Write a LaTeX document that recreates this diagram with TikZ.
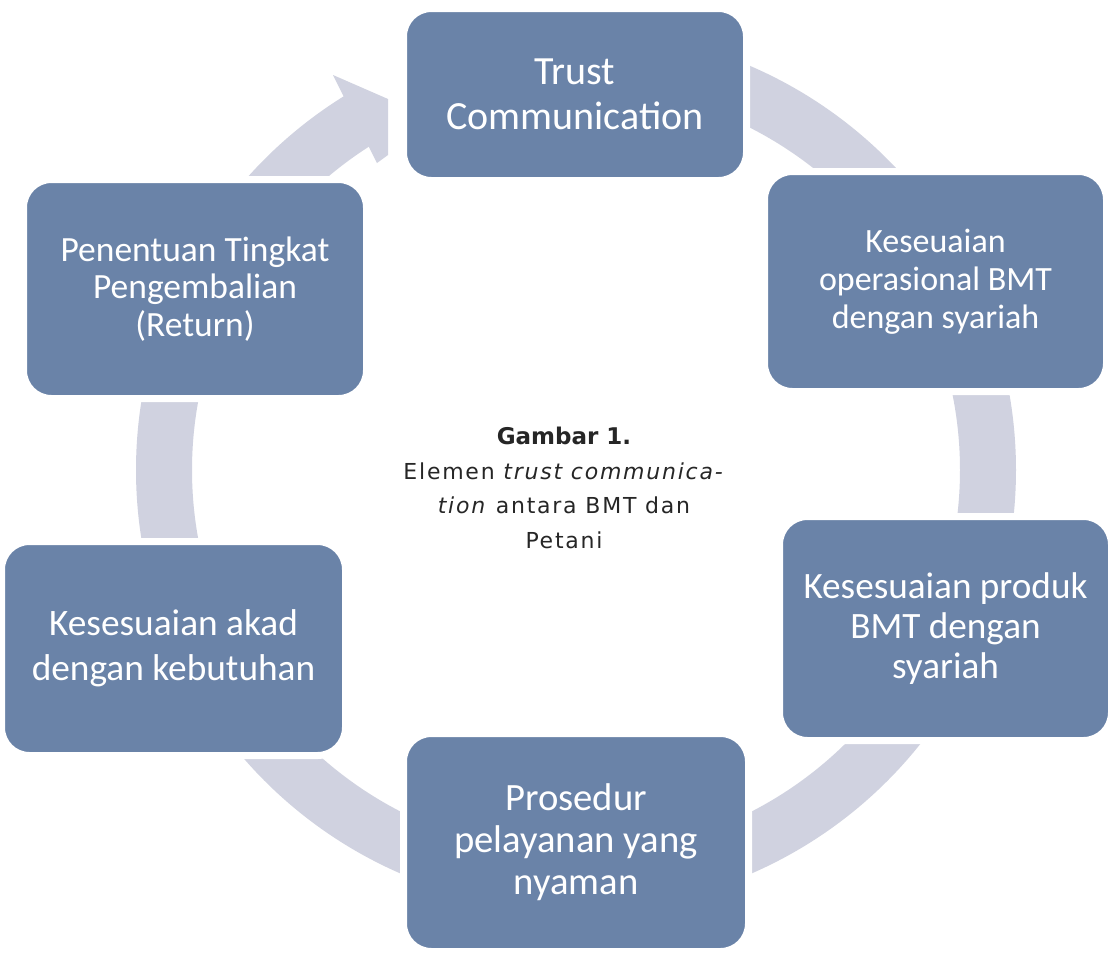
\documentclass[tikz,border=0pt]{standalone}
\usepackage{fontspec}
\setmainfont{Carlito}
\newfontfamily\capfont[LetterSpace=8]{DejaVu Sans}
\newfontfamily\capbold{DejaVu Sans}
\definecolor{boxblue}{HTML}{6A83A8}
\definecolor{bandc}{HTML}{D0D2E0}
\begin{document}
\begin{tikzpicture}[x=0.75pt,y=-0.75pt]
\useasboundingbox[fill=white] (0,0) rectangle (1108,958);
\tikzset{
  cycbox/.style={draw=white, line width=5.25pt, fill=boxblue, rounded corners=21pt,
    text=white, align=center, inner sep=0pt},
  bandarc/.style={draw=bandc, line width=42pt},
}
% bands (circle centre 576,470, radius 412)
\coordinate (ctr) at (576,470);
\draw[bandarc] ([shift={(-75:412)}]ctr) arc[start angle=-75, end angle=-30, radius=412];
\draw[bandarc] ([shift={(-20:412)}]ctr) arc[start angle=-20, end angle=20, radius=412];
\draw[bandarc] ([shift={(30:412)}]ctr) arc[start angle=30, end angle=75, radius=412];
\draw[bandarc] ([shift={(105:412)}]ctr) arc[start angle=105, end angle=150, radius=412];
\draw[bandarc] ([shift={(160:412)}]ctr) arc[start angle=160, end angle=200, radius=412];
\draw[bandarc] ([shift={(210:412)}]ctr) arc[start angle=210, end angle=240, radius=412];
\fill[bandc] (333,75) -- (388,99) -- (388,155) -- (377,163) -- cycle;
% boxes
\node[cycbox, minimum width=343*0.75pt, minimum height=172*0.75pt,
  font=\fontsize{30}{33.75}\selectfont] (trust) at (575,94.5) {Trust\\Communication};
\node[cycbox, minimum width=342*0.75pt, minimum height=220*0.75pt,
  font=\fontsize{25.5}{28.5}\selectfont] (kesop) at (935.5,281.5) {Keseuaian\\operasional BMT\\dengan syariah};
\node[cycbox, minimum width=332*0.75pt, minimum height=224*0.75pt,
  font=\fontsize{27.9}{30}\selectfont] (produk) at (945.5,628.5) {Kesesuaian produk\\BMT dengan\\syariah};
\node[cycbox, minimum width=345*0.75pt, minimum height=218*0.75pt,
  font=\fontsize{29}{31.5}\selectfont] (prosedur) at (576,842.5) {Prosedur\\pelayanan yang\\nyaman};
\node[cycbox, minimum width=344*0.75pt, minimum height=214*0.75pt,
  font=\fontsize{28}{33.75}\selectfont] (akad) at (173.5,648.5) {Kesesuaian akad\\dengan kebutuhan};
\node[cycbox, minimum width=343*0.75pt, minimum height=219*0.75pt,
  font=\fontsize{26.6}{28}\selectfont] (penentuan) at (195,289) {Penentuan Tingkat\\Pengembalian\\(Return)};
% caption
\node[align=center, text=black!85, font=\capfont\fontsize{16.5}{25.9}\selectfont] (cap) at (564,488)
  {{\capbold\bfseries\fontsize{17.25}{25.9}\selectfont Gambar 1.}\\Elemen \textit{trust communica-}\\\textit{tion} antara BMT dan\\Petani};
\end{tikzpicture}
\end{document}
